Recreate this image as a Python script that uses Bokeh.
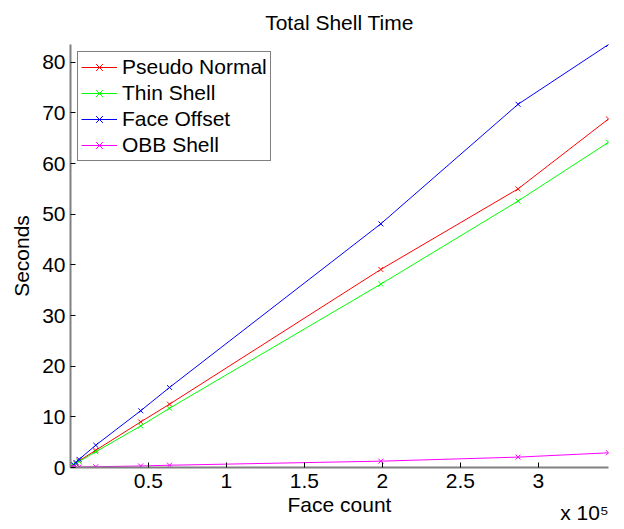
from bokeh.plotting import figure
from bokeh.models import Range1d, FixedTicker, LinearAxis
from bokeh.embed import file_html
from bokeh.resources import INLINE

# ---- data ----
faces = [300, 1000, 2000, 3500, 5500, 16200, 45000, 63500, 199000, 287000, 345000]
pseudo_normal = [0.05, 0.2, 0.4, 0.8, 1.3, 3.4, 9.0, 12.5, 39.1, 55.0, 68.8]
thin_shell = [0.05, 0.2, 0.4, 0.7, 1.2, 3.1, 8.2, 11.7, 36.2, 52.6, 64.2]
face_offset = [0.1, 0.3, 0.6, 1.0, 1.6, 4.4, 11.2, 15.8, 48.1, 71.7, 83.5]
obb_shell = [0.01, 0.02, 0.04, 0.07, 0.1, 0.15, 0.3, 0.45, 1.25, 2.05, 2.9]

x_ticks = [50000, 100000, 150000, 200000, 250000, 300000]
x_tick_labels = ["0.5", "1", "1.5", "2", "2.5", "3"]
y_ticks = [0, 10, 20, 30, 40, 50, 60, 70, 80]
exponent_text = "x 10\u2075"
exponent_pos = 329600   # where the exponent note sits along the x axis

series = [
    ("Pseudo Normal", pseudo_normal, "#FF0000"),
    ("Thin Shell", thin_shell, "#00FF00"),
    ("Face Offset", face_offset, "#0000FF"),
    ("OBB Shell", obb_shell, "#FF00FF"),
]

FONT = "Liberation Sans"
FS = "21px"

p = figure(width=624, height=529, output_backend="svg", toolbar_location=None,
           x_range=Range1d(0, faces[-1]), y_range=Range1d(0, max(face_offset)),
           title="Total Shell Time")
p.min_border_left = 70
p.min_border_right = 16
p.min_border_top = 44
p.min_border_bottom = 62
p.outline_line_color = None
p.grid.visible = False
p.background_fill_color = "white"
p.border_fill_color = "white"

p.title.text_font = FONT
p.title.text_font_size = FS
p.title.text_font_style = "normal"
p.title.align = "center"
p.title.vertical_align = "top"
p.title.text_color = "black"
p.title.standoff = 18

for name, ys, col in series:
    p.line(faces, ys, line_color=col, line_width=1, legend_label=name)
    p.scatter(faces, ys, marker="x", size=7, line_color=col, line_width=1, legend_label=name)

for ax in (p.xaxis[0], p.yaxis[0]):
    ax.axis_line_color = "#808080"
    ax.axis_line_width = 2
    ax.major_tick_in = 5
    ax.major_tick_out = 0
    ax.major_tick_line_color = "black"
    ax.minor_tick_line_color = None
    ax.major_label_text_font = FONT
    ax.major_label_text_font_size = FS
    ax.major_label_text_color = "black"
    ax.axis_label_text_font = FONT
    ax.axis_label_text_font_size = FS
    ax.axis_label_text_font_style = "normal"
    ax.axis_label_text_color = "black"
    ax.major_label_standoff = 5

p.xaxis[0].major_label_standoff = 6
p.xaxis[0].ticker = FixedTicker(ticks=x_ticks)
p.xaxis[0].major_label_overrides = {t: l for t, l in zip(x_ticks, x_tick_labels)}
p.yaxis[0].ticker = FixedTicker(ticks=y_ticks)
p.xaxis[0].axis_label = "Face count"
p.yaxis[0].axis_label = "Seconds"
p.xaxis[0].axis_label_standoff = 2
p.yaxis[0].axis_label_standoff = 6

# exponent note "x 10^5" as an extra, line-less axis below
exp_axis = LinearAxis(ticker=FixedTicker(ticks=[exponent_pos]),
                      major_label_overrides={exponent_pos: exponent_text})
exp_axis.axis_line_color = None
exp_axis.major_tick_line_color = None
exp_axis.minor_tick_line_color = None
exp_axis.major_tick_in = 0
exp_axis.major_tick_out = 0
exp_axis.major_label_standoff = -18
exp_axis.major_label_text_font = FONT
exp_axis.major_label_text_font_size = FS
exp_axis.major_label_text_color = "black"
p.add_layout(exp_axis, "below")

lg = p.legend[0]
lg.location = "top_left"
lg.margin = 7
lg.padding = 3
lg.spacing = 2
lg.glyph_width = 36
lg.glyph_height = 24
lg.label_height = 24
lg.label_standoff = 5
lg.label_text_font = FONT
lg.label_text_font_size = FS
lg.label_text_color = "black"
lg.border_line_color = "black"
lg.border_line_width = 1
lg.background_fill_color = "white"
lg.background_fill_alpha = 1

open("out.html", "w").write(file_html(p, INLINE))
